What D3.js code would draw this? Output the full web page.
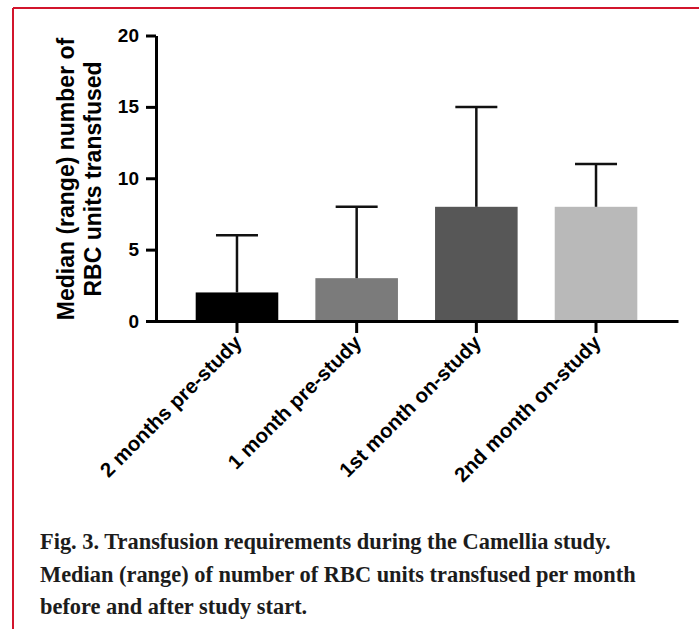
<!DOCTYPE html>
<html>
<head>
<meta charset="utf-8">
<script src="https://cdn.jsdelivr.net/npm/d3@7"></script>
<style>
  html, body { margin: 0; padding: 0; background: #fff; }
  svg { display: block; }
</style>
</head>
<body>
<svg id="chart" width="699" height="629"></svg>
<script>
const categories = ["2 months pre-study", "1 month pre-study", "1st month on-study", "2nd month on-study"];
const medians = [2, 3, 8, 8];
const rangeMax = [6, 8, 15, 11];
const barColors = ["#000000", "#7b7b7b", "#575757", "#b9b9b9"];
const yTicks = [0, 5, 10, 15, 20];
const yTitleLines = ["Median (range) number of", "RBC units transfused"];
const captionLines = [
  "Fig. 3. Transfusion requirements during the Camellia study.",
  "Median (range) of number of RBC units transfused per month",
  "before and after study start."
];

const svg = d3.select("#chart");
const sans = "'Liberation Sans', Arial, Helvetica, sans-serif";
const serif = "'Liberation Serif', 'Times New Roman', serif";

// red frame
svg.append("line").attr("x1", 13).attr("x2", 699).attr("y1", 8).attr("y2", 8)
  .attr("stroke", "#d2152c").attr("stroke-width", 2);
svg.append("line").attr("x1", 13).attr("x2", 13).attr("y1", 8).attr("y2", 629)
  .attr("stroke", "#d2152c").attr("stroke-width", 2);

const y = d3.scaleLinear().domain([0, 20]).range([321, 35.5]);
const x = d3.scaleBand().domain(categories).range([155, 678])
  .paddingInner(0.31).paddingOuter(0.34);

const data = categories.map((c, i) => ({ c, m: medians[i], hi: rangeMax[i], col: barColors[i] }));

// bars
svg.append("g").selectAll("rect").data(data).join("rect")
  .attr("x", d => x(d.c))
  .attr("width", x.bandwidth())
  .attr("y", d => y(d.m))
  .attr("height", d => y(0) - y(d.m))
  .attr("fill", d => d.col);

// error bars (upper range)
const eb = svg.append("g").attr("stroke", "#111").attr("stroke-width", 2.5);
eb.selectAll("line.v").data(data).join("line").attr("class", "v")
  .attr("x1", d => x(d.c) + x.bandwidth() / 2)
  .attr("x2", d => x(d.c) + x.bandwidth() / 2)
  .attr("y1", d => y(d.m))
  .attr("y2", d => y(d.hi));
eb.selectAll("line.cap").data(data).join("line").attr("class", "cap")
  .attr("x1", d => x(d.c) + x.bandwidth() / 2 - 21)
  .attr("x2", d => x(d.c) + x.bandwidth() / 2 + 21)
  .attr("y1", d => y(d.hi))
  .attr("y2", d => y(d.hi));

// y axis
const yAxis = svg.append("g").attr("transform", "translate(156,0)")
  .call(d3.axisLeft(y).tickValues(yTicks).tickSize(10).tickSizeOuter(0).tickPadding(7));
yAxis.select(".domain").attr("stroke", "#000").attr("stroke-width", 3);
yAxis.selectAll(".tick line").attr("stroke", "#000").attr("stroke-width", 3);
yAxis.selectAll(".tick text").attr("fill", "#000")
  .style("font-family", sans).style("font-weight", "bold").style("font-size", "19px");

// x axis
const xAxis = svg.append("g").attr("transform", "translate(0,321)")
  .call(d3.axisBottom(x).tickSize(12).tickSizeOuter(0));
xAxis.select(".domain").attr("stroke", "#000").attr("stroke-width", 3);
xAxis.selectAll(".tick line").attr("stroke", "#000").attr("stroke-width", 3);
xAxis.selectAll(".tick text")
  .attr("fill", "#000")
  .attr("y", 0).attr("dy", 0)
  .attr("text-anchor", "end")
  .attr("transform", "translate(6,23) rotate(-45)")
  .style("font-family", sans).style("font-weight", "bold").style("font-size", "20.5px");

// y title
const yt = svg.append("text")
  .attr("transform", "translate(74,179) rotate(-90)")
  .attr("text-anchor", "middle")
  .style("font-family", sans).style("font-weight", "bold").style("font-size", "23px")
  .attr("fill", "#000");
yt.selectAll("tspan").data(yTitleLines).join("tspan")
  .attr("x", 0).attr("dy", (d, i) => i === 0 ? 0 : 27)
  .text(d => d);

// caption
svg.append("g").selectAll("text").data(captionLines).join("text")
  .attr("x", 40)
  .attr("y", (d, i) => 549 + i * 32.5)
  .style("font-family", serif).style("font-weight", "bold").style("font-size", "22.4px")
  .attr("fill", "#1c1c1c")
  .text(d => d);
</script>
</body>
</html>
